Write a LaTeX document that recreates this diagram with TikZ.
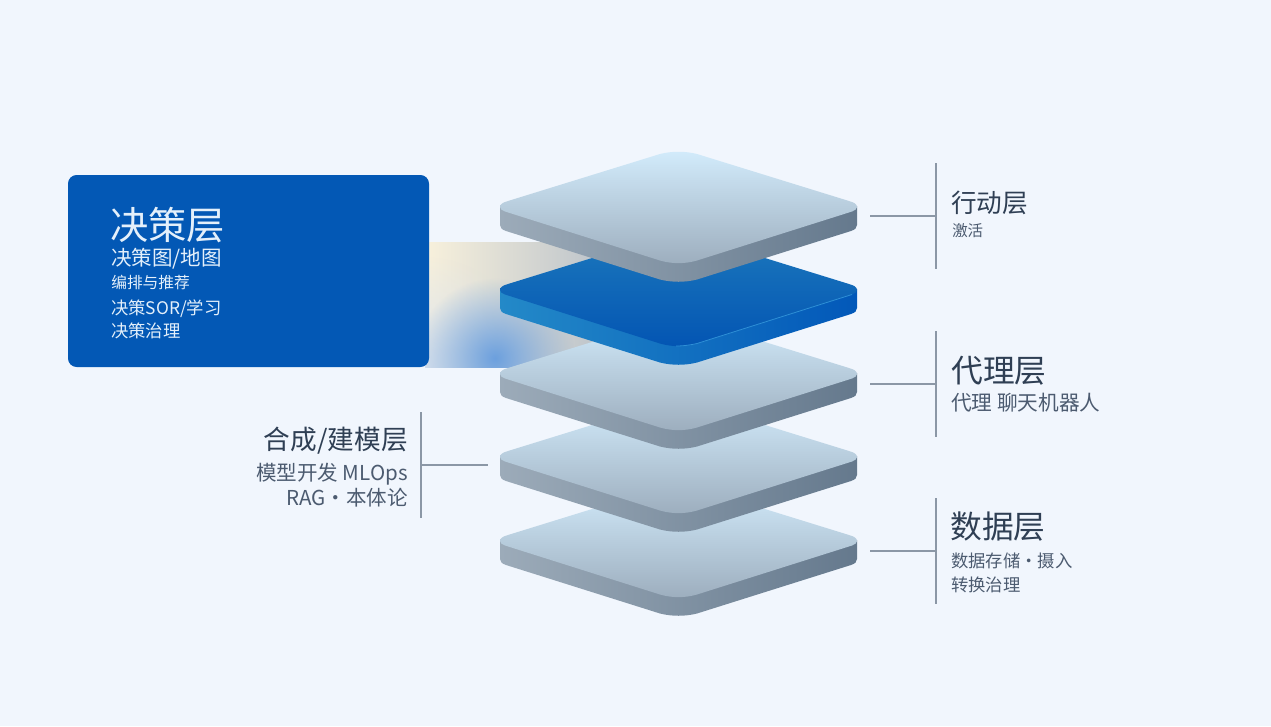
\documentclass[tikz,border=0pt]{standalone}
\usepackage{fontspec}
\usetikzlibrary{fadings}
\setmainfont{Noto Sans CJK SC}
\definecolor{pagebg}{HTML}{F1F6FD}
\definecolor{inkdark}{HTML}{2F3F54}
\definecolor{inkmid}{HTML}{4C5B70}
\definecolor{rulecol}{HTML}{8B97A6}
\definecolor{cardblue}{HTML}{0358B5}
\definecolor{cardink}{HTML}{E4F0FB}
\definecolor{glowwarm}{HTML}{F8F1DC}
\definecolor{glowgrey}{HTML}{BDC4CB}
\definecolor{glowpale}{HTML}{DCE4EE}
\definecolor{glowblue}{HTML}{6CA0DE}
\definecolor{faceTop}{HTML}{D2EBFB}
\definecolor{faceBot}{HTML}{9DAEBE}
\definecolor{wallL}{HTML}{9CABB9}
\definecolor{wallM}{HTML}{8698AA}
\definecolor{wallR}{HTML}{65798D}
\definecolor{blueFaceTop}{HTML}{1C78BC}
\definecolor{blueFaceBot}{HTML}{0355B3}
\definecolor{blueWallL}{HTML}{2389C8}
\definecolor{blueWallM}{HTML}{1775BF}
\definecolor{blueWallR}{HTML}{0258B9}
\definecolor{blueEdge}{HTML}{2E8FD6}
\tikzfading[name=softspot, inner color=transparent!0, outer color=transparent!100]
\tikzset{
  leader/.style={draw=rulecol, line width=0.8pt},
  headtext/.style={anchor=base west, text=inkdark, inner sep=0pt},
  subtext/.style={anchor=base west, text=inkmid, inner sep=0pt},
  headleft/.style={anchor=base east, text=inkdark, inner sep=0pt},
  subleft/.style={anchor=base east, text=inkmid, inner sep=0pt},
  cardtext/.style={anchor=base west, text=cardink, inner sep=0pt},
}
\newcommand{\fsz}[1]{\fontsize{#1}{#1}\selectfont}
% One slab of the stack: #1 vertical offset, #2 #3 top and bottom of the face,
% #4 #5 #6 left, middle and right of the side wall
\newcommand{\slab}[6]{%
  \begin{scope}[yshift=-0.75*#1 pt]
    \shade[left color=#4, middle color=#5, right color=#6]
      (500,206) -- (500,225) .. controls (500,228) and (502,229.5) .. (506,231)
      -- (660,279.5) .. controls (672,282.5) and (685,282.5) .. (697,279.5)
      -- (851,231) .. controls (855,229.5) and (857,228) .. (857,225) -- (857,206) -- cycle;
    \shade[top color=#2, bottom color=#3]
      (500,207) .. controls (500,204) and (503,202.5) .. (508,201)
      -- (660,154) .. controls (672,151) and (685,151) .. (697,154)
      -- (849,201) .. controls (854,202.5) and (857,204) .. (857,207)
      .. controls (857,209) and (855,210.5) .. (852,211.5)
      -- (697,260.5) .. controls (685,264) and (672,264) .. (660,260.5)
      -- (505,211.5) .. controls (502,210.5) and (500,209) .. (500,207) -- cycle;
  \end{scope}}
\begin{document}
\begin{tikzpicture}[x=0.75pt,y=-0.75pt]
  \useasboundingbox (0,0) rectangle (1271,726);
  \fill[pagebg] (0,0) rectangle (1271,726);

  % Glow band between the card and the highlighted slab
  \begin{scope}
    \clip (425,242) rectangle (600,367);
    \shade[left color=glowwarm, right color=glowgrey] (425,242) rectangle (600,367);
    \fill[glowpale, path fading=softspot] (425,367) circle[radius=110];
    \fill[glowblue, path fading=softspot] (495,358) circle[radius=80];
  \end{scope}

  % Stack, bottom to top
  \slab{334}{faceTop}{faceBot}{wallL}{wallM}{wallR}
  \slab{250}{faceTop}{faceBot}{wallL}{wallM}{wallR}
  \slab{167}{faceTop}{faceBot}{wallL}{wallM}{wallR}
  \slab{83}{blueFaceTop}{blueFaceBot}{blueWallL}{blueWallM}{blueWallR}
  % Light rim on the front right edge of the highlighted slab
  \draw[blueEdge, line width=0.6pt]
    (676,346) .. controls (684,346) and (690,345) .. (697,343.5) -- (852,294.5);
  \slab{0}{faceTop}{faceBot}{wallL}{wallM}{wallR}

  % Highlighted card
  \node[fill=cardblue, rounded corners=6.5pt, minimum width=270.75pt, minimum height=144pt, inner sep=0pt] (card) at (248.5,271) {};
  \node[cardtext, font=\fsz{28.7}] (cardhead) at (110,239) {决策层};
  \node[cardtext, font=\fsz{15.4}] (cardone)  at (111,265) {决策图/地图};
  \node[cardtext, font=\fsz{11.8}] (cardtwo)  at (111,288) {编排与推荐};
  \node[cardtext, font=\fsz{13}]   (cardthr)  at (111,314) {决策SOR/学习};
  \node[cardtext, font=\fsz{13}]   (cardfou)  at (111,337) {决策治理};

  % Right-hand labels with their leaders
  \coordinate (actA) at (870,216); \coordinate (actB) at (936,216);
  \coordinate (actT) at (936,163); \coordinate (actD) at (936,269);
  \draw[leader] (actA) -- (actB); \draw[leader] (actT) -- (actD);
  \node[headtext, font=\fsz{19.2}] (acthead) at (951,212) {行动层};
  \node[subtext,  font=\fsz{11.6}] (actsub)  at (952,236) {激活};

  \coordinate (ageA) at (870,384); \coordinate (ageB) at (936,384);
  \coordinate (ageT) at (936,331); \coordinate (ageD) at (936,437);
  \draw[leader] (ageA) -- (ageB); \draw[leader] (ageT) -- (ageD);
  \node[headtext, font=\fsz{23.8}] (agehead) at (951,382) {代理层};
  \node[subtext,  font=\fsz{15.5}] (agesub)  at (951,410) {代理 聊天机器人};

  \coordinate (datA) at (870,551); \coordinate (datB) at (936,551);
  \coordinate (datT) at (936,498); \coordinate (datD) at (936,604);
  \draw[leader] (datA) -- (datB); \draw[leader] (datT) -- (datD);
  \node[headtext, font=\fsz{23.8}] (dathead) at (950,538) {数据层};
  \node[subtext,  font=\fsz{13}]   (datone)  at (951,567) {数据存储・摄入};
  \node[subtext,  font=\fsz{13}]   (dattwo)  at (951,591) {转换治理};

  % Left-hand label with its leader
  \coordinate (synA) at (421,465); \coordinate (synB) at (488,465);
  \coordinate (synT) at (421,412); \coordinate (synD) at (421,518);
  \draw[leader] (synA) -- (synB); \draw[leader] (synT) -- (synD);
  \node[headleft, font=\fsz{20}]   (synhead) at (408,449) {合成/建模层};
  \node[subleft,  font=\fsz{15.4}] (synone)  at (408,480) {模型开发 MLOps};
  \node[subleft,  font=\fsz{15.4}] (syntwo)  at (408,505.5) {RAG・本体论};
\end{tikzpicture}
\end{document}
